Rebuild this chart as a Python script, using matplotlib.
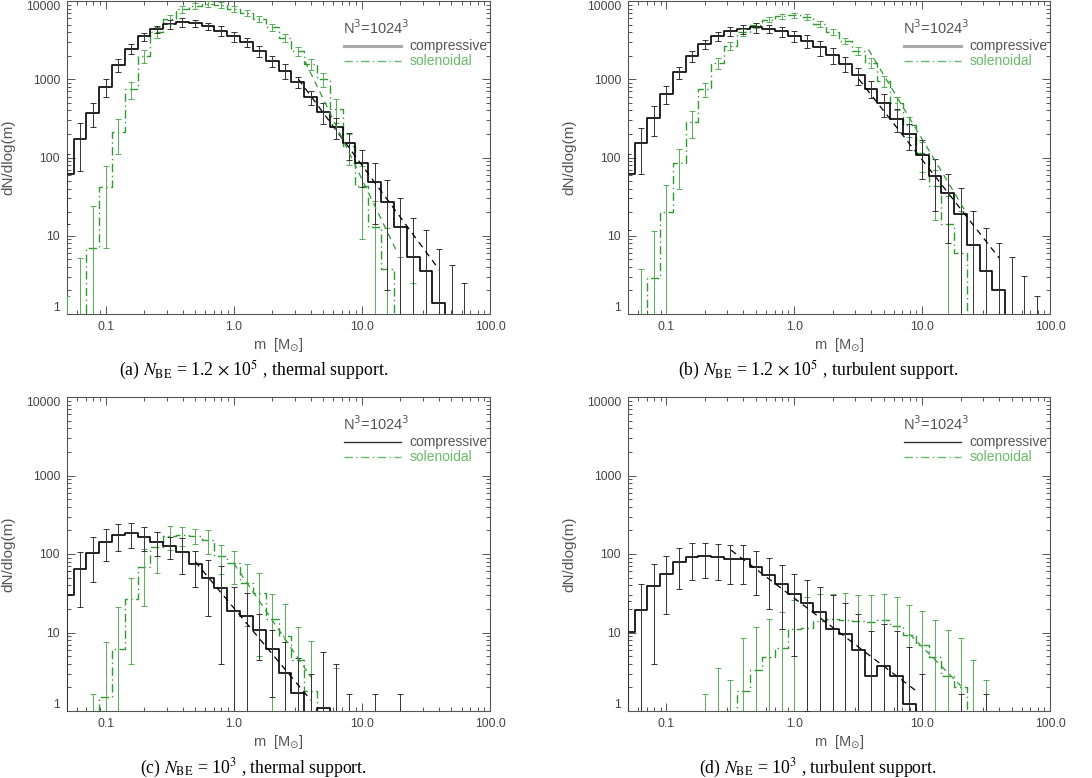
import numpy as np
import matplotlib.pyplot as plt
from matplotlib.ticker import LogLocator, NullFormatter

plt.rcParams['font.family'] = ['Liberation Sans', 'DejaVu Sans']

# bin centres, log10(m / Msun), bin width 0.1 dex
log_m = [-1.3, -1.2, -1.1, -1.0, -0.9, -0.8, -0.7, -0.6, -0.5, -0.4, -0.3,
         -0.2, -0.1, 0.0, 0.1, 0.2, 0.3, 0.4, 0.5, 0.6, 0.7, 0.8, 0.9, 1.0,
         1.1, 1.2, 1.3, 1.4, 1.5, 1.6, 1.7, 1.8, 1.9]

# (a) N_BE = 1.2e5, thermal support
a_comp = [62, 170, 372, 805, 1520, 2470, 3520, 4360, 5070, 5330, 5200, 4800, 4170, 3520, 2950, 2300,
          1720, 1280, 925, 590, 385, 245, 151, 84, 49, 27, 13, 5.4, 3.5, 1.37, 0, 0, 0]
a_comp_hi = [110, 273, 500, 1020, 1820, 2850, 3950, 4850, 5700, 6000, 5800, 5300, 4730, 4040, 3320, 2670,
             1990, 1550, 1080, 710, 500, 320, 208, 126, 84, 52, 30, 17, 12, 6.7, 4.2, 2.5, 0]
a_sol = [0, 0, 6.9, 42, 210, 745, 1990, 3980, 5890, 7900, 8700, 9150, 8900, 8000, 7000, 5890,
         4600, 3400, 2300, 1560, 1000, 420, 140, 43, 13, 3.8, 0, 0, 0, 0, 0, 0, 0]
a_sol_hi = [1.7, 5.2, 24, 77, 310, 930, 2350, 4600, 6700, 8700, 9500, 9900, 9600, 8700, 7600, 6400,
            5050, 3780, 2600, 1800, 1200, 560, 200, 77, 28, 12.5, 5.3, 2.5, 0, 0, 0, 0, 0]

# (b) N_BE = 1.2e5, turbulent support
b_comp = [61, 151, 323, 650, 1220, 1990, 2800, 3520, 4080, 4360, 4600, 4450, 4080, 3600, 3100, 2550,
          2030, 1560, 1120, 760, 490, 315, 197, 109, 58, 35, 19, 7.7, 3.5, 2.0, 0, 0, 0]
b_comp_hi = [110, 240, 455, 820, 1440, 2310, 3190, 4000, 4600, 4930, 5250, 5000, 4700, 4180, 3700, 3100,
             2500, 1900, 1400, 950, 650, 420, 270, 165, 95, 62, 41, 21, 12.5, 8, 5.3, 3.1, 1.7]
b_sol = [0, 0.35, 2.9, 20, 85, 285, 750, 1600, 2680, 4000, 4900, 5800, 6400, 6600, 6300, 5100,
         4000, 3100, 2300, 1630, 950, 500, 257, 113, 43, 14, 6, 0, 0, 0, 0, 0, 0]
b_sol_hi = [0, 3.8, 11.5, 44, 130, 390, 900, 1850, 3000, 4400, 5300, 6200, 6900, 7100, 6800, 5500,
            4350, 3400, 2550, 1850, 1100, 600, 330, 160, 70, 32, 21, 0, 0, 0, 0, 0, 0]

# (c) N_BE = 1e3, thermal support
c_comp = [30, 64, 104, 144, 175, 183, 166, 144, 126, 107, 74, 50, 37, 19, 16, 10.7,
          6.1, 3.05, 1.7, 0, 1.1, 0, 0, 0, 0, 0, 0, 0, 0, 0, 0, 0, 0]
c_comp_hi = [60, 107, 164, 206, 240, 246, 223, 193, 166, 158, 110, 84, 70, 38, 32, 17,
             10.7, 7.6, 4.7, 3.0, 5.7, 4.0, 1.66, 0, 1.66, 0, 1.66, 0, 0, 0, 0, 0, 0]
c_sol = [0, 0, 0, 1.5, 6.2, 27, 69, 124, 170, 175, 170, 150, 93, 76, 43, 31.5,
         15, 9, 4.5, 1.8, 0, 0, 0, 0, 0, 0, 0, 0, 0, 0, 0, 0, 0]
c_sol_hi = [0, 0, 1.66, 7.6, 21, 50, 116, 190, 228, 224, 206, 200, 130, 110, 74, 58,
            31, 23, 11.8, 7.8, 0, 3.5, 0, 0, 0, 0, 0, 0, 0, 0, 0, 0, 0]

# (d) N_BE = 1e3, turbulent support
d_comp = [10.2, 19.3, 39.5, 56, 78, 92, 94, 91, 86, 86, 69, 54, 41.5, 30.5, 23.5, 18.4,
          11.2, 9.7, 5.9, 2.8, 3.7, 2.8, 1.24, 0, 0, 0, 0, 0, 0, 0, 0, 0, 0]
d_comp_hi = [25, 42, 75, 95, 120, 137, 139, 136, 130, 130, 108, 88, 72, 56, 46, 38.5,
             30, 24, 17.3, 10.6, 12.7, 10.6, 6.5, 3.0, 0, 0, 1.65, 0, 1.65, 0, 0, 0, 0]
d_sol = [0, 0, 0, 0, 0, 0, 0, 0.4, 0.2, 1.8, 3.3, 4.9, 6.3, 11, 11.5, 14,
         14.7, 14.4, 14, 13.7, 14.4, 12, 9.3, 6.9, 4.9, 2.8, 2.0, 0, 0, 0, 0, 0, 0]
d_sol_hi = [0, 0, 0, 0, 0, 0, 1.66, 3.5, 2.5, 8.4, 11.8, 15, 18.3, 26, 28.5, 31,
            31, 31.5, 30, 30, 31, 28, 22.4, 19, 14.4, 10.7, 8.4, 4.5, 2.5, 0, 0, 0, 0]

# power-law fits: end points (m, dN/dlog m)
a_fit_comp = ([3.2, 40], [1000, 3.7])
a_fit_sol = ([3.6, 19], [1700, 6])
b_fit_comp = ([3.2, 40], [1000, 5.2])
b_fit_sol = ([3.8, 22], [2400, 20])
c_fit_comp = ([0.5, 4.0], [80, 1.37])
c_fit_sol = ([1.0, 4.0], [76, 2.7])
d_fit_comp = ([0.32, 9.2], [112, 1.75])
d_fit_sol = ([8.0, 20], [9.5, 2.1])

captions = [r'(a) $N_{\rm BE}$ = 1.2 $\times$ 10$^5$ , thermal support.',
            r'(b) $N_{\rm BE}$ = 1.2 $\times$ 10$^5$ , turbulent support.',
            r'(c) $N_{\rm BE}$ = 10$^3$ , thermal support.',
            r'(d) $N_{\rm BE}$ = 10$^3$ , turbulent support.']

GREEN = '#2f9a2f'
GREEN_ERR = '#55b055'
AXC = '#555555'
DASHDOT = (0, (6, 2.5, 1, 2.5))


def draw_hist(ax, vals, hi, color, ls, lw, ecolor):
    lm = np.array(log_m)
    v = np.array(vals, dtype=float)
    h = np.array(hi, dtype=float)
    edges = 10 ** np.append(lm - 0.05, lm[-1] + 0.05)
    ax.step(edges, np.append(v, v[-1]), where='post', color=color, ls=ls, lw=lw, zorder=3)
    ok = h > 0
    lo = 2 * v[ok] - h[ok]
    lo = np.where(lo > 0, lo, 1e-3)
    mid = (h[ok] + lo) / 2
    ax.errorbar(10 ** lm[ok], mid, yerr=(h[ok] - lo) / 2, fmt='none', ecolor=ecolor,
                elinewidth=0.7, capsize=2.4, capthick=0.7, zorder=4)


def draw_panel(ax, comp, comp_hi, sol, sol_hi, fit_comp, fit_sol, thick_legend):
    draw_hist(ax, sol, sol_hi, GREEN, DASHDOT, 1.0, GREEN_ERR)
    draw_hist(ax, comp, comp_hi, 'black', '-', 1.2, '#333333')
    ax.plot(*fit_comp, color='black', ls=(0, (5, 4)), lw=0.9, zorder=5)
    ax.plot(*fit_sol, color=GREEN, ls=(0, (5, 4)), lw=0.9, zorder=5)

    ax.set_xscale('log')
    ax.set_yscale('log')
    ax.set_xlim(0.05, 100)
    ax.set_ylim(1, 10000)
    ax.set_xticks([0.1, 1, 10, 100], ['0.1', '1.0', '10.0', '100.0'])
    ax.set_yticks([1, 10, 100, 1000, 10000], ['1', '10', '100', '1000', '10000'])
    ax.xaxis.set_minor_locator(LogLocator(subs=np.arange(2, 10)))
    ax.yaxis.set_minor_locator(LogLocator(subs=np.arange(2, 10)))
    ax.xaxis.set_minor_formatter(NullFormatter())
    ax.yaxis.set_minor_formatter(NullFormatter())
    ax.tick_params(which='both', direction='in', top=True, right=True, color=AXC,
                   labelcolor='#444444', labelsize=8.8, width=0.7)
    ax.tick_params(which='major', length=6, pad=5)
    ax.tick_params(which='minor', length=3)
    ylabels = ax.get_yticklabels()
    ylabels[0].set_va('bottom')
    ylabels[-1].set_va('top')
    for s in ax.spines.values():
        s.set_color(AXC)
        s.set_linewidth(0.8)

    ax.text(-0.139, 0.5, 'dN/dlog(m)', transform=ax.transAxes, rotation=90,
            ha='center', va='center', fontsize=11, color=AXC)
    ax.text(0.5, -0.1, r'm  [M$_{\odot}$]', transform=ax.transAxes,
            ha='center', va='center', fontsize=10.5, color=AXC)

    # legend as drawn by the original figure
    ax.text(0.652, 0.915, r'N$^3$=1024$^3$', transform=ax.transAxes,
            ha='left', va='center', fontsize=10.5, color=AXC)
    if thick_legend:
        ax.plot([0.655, 0.79], [0.857, 0.857], transform=ax.transAxes, color='#aaaaaa', lw=2.2)
    else:
        ax.plot([0.655, 0.79], [0.857, 0.857], transform=ax.transAxes, color='#333333', lw=1.0)
    ax.text(0.81, 0.857, 'compressive', transform=ax.transAxes,
            ha='left', va='center', fontsize=10, color=AXC)
    ax.plot([0.655, 0.79], [0.808, 0.808], transform=ax.transAxes, color='#66bb66',
            lw=1.0, ls=DASHDOT)
    ax.text(0.81, 0.808, 'solenoidal', transform=ax.transAxes,
            ha='left', va='center', fontsize=10, color='#66bb66')


fig = plt.figure(figsize=(10.92, 7.78), dpi=100)
W, H = 1092, 778
boxes = [(67, 1, 423, 313), (628, 1, 422, 313), (67, 397, 423, 314), (628, 397, 422, 314)]
axes = [fig.add_axes([x / W, 1 - (y + h) / H, w / W, h / H]) for x, y, w, h in boxes]

draw_panel(axes[0], a_comp, a_comp_hi, a_sol, a_sol_hi, a_fit_comp, a_fit_sol, True)
draw_panel(axes[1], b_comp, b_comp_hi, b_sol, b_sol_hi, b_fit_comp, b_fit_sol, True)
draw_panel(axes[2], c_comp, c_comp_hi, c_sol, c_sol_hi, c_fit_comp, c_fit_sol, False)
draw_panel(axes[3], d_comp, d_comp_hi, d_sol, d_sol_hi, d_fit_comp, d_fit_sol, False)

cap_pos = [(254, 370), (818, 370), (254, 768), (818, 768)]
for (cx, cy), txt in zip(cap_pos, captions):
    fig.text(cx / W, 1 - cy / H, txt, ha='center', va='center', fontsize=12.8,
             family=['Liberation Serif', 'DejaVu Serif'], math_fontfamily='stix')

fig.savefig('out.png', dpi=100)
